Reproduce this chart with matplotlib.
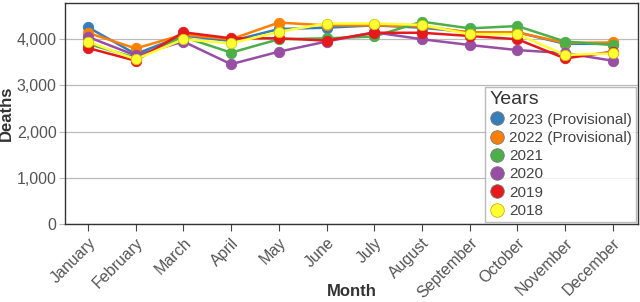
import matplotlib
matplotlib.use("Agg")
import matplotlib.pyplot as plt
import numpy as np

plt.rcParams['font.family'] = ['Liberation Sans', 'DejaVu Sans']

months = ["January", "February", "March", "April", "May", "June", "July",
          "August", "September", "October", "November", "December"]
years = ["2023 (Provisional)", "2022 (Provisional)", "2021", "2020", "2019", "2018"]
colors = ["#377eb8", "#ff7f00", "#4daf4a", "#984ea3", "#e41a1c", "#ffff33"]

d2023 = [4260, 3680, 4080, 3960, 4220, 4250, 4300, 4250, 4150, 4150, 3900, 3900]
d2022 = [4140, 3800, 4100, 4000, 4360, 4300, 4300, 4280, 4150, 4150, 3920, 3930]
d2021 = [3900, 3600, 4050, 3710, 4000, 4020, 4060, 4380, 4235, 4285, 3950, 3875]
d2020 = [4050, 3650, 3950, 3460, 3730, 3950, 4150, 4000, 3875, 3765, 3700, 3535]
d2019 = [3810, 3535, 4150, 4020, 4020, 3970, 4140, 4140, 4070, 4000, 3585, 3730]
d2018 = [3950, 3565, 4000, 3910, 4160, 4340, 4340, 4310, 4110, 4110, 3660, 3695]
series = [d2023, d2022, d2021, d2020, d2019, d2018]

fig = plt.figure(figsize=(6.4, 3.02), dpi=100)
ax = fig.add_axes([0.1016, 0.258, 0.8954, 0.733])

x = np.arange(len(months))
for vals, c, lab in zip(series, colors, years):
    edge = "#d6c400" if c == "#ffff33" else c
    ax.plot(x, vals, color=c, lw=1.8, marker="o", ms=7.5, mfc=c, mec=edge,
            mew=0.6, label=lab, zorder=3)

ax.set_ylim(0, 4790)
ax.set_xlim(-0.48, 11.53)
ax.set_yticks([0, 1000, 2000, 3000, 4000])
ax.set_yticklabels(["0", "1,000", "2,000", "3,000", "4,000"], fontsize=11.5, color="#555555")
ax.yaxis.grid(True, color="#bbbbbb", lw=0.9)
ax.set_axisbelow(True)
ax.tick_params(axis="y", length=4, color="#bbbbbb", pad=2)

ax.set_xticks(x)
ax.set_xticklabels(months, rotation=45, ha="right", rotation_mode="anchor",
                   fontsize=11.5, color="#555555")
ax.tick_params(axis="x", length=5, color="#444444", pad=3)

for s in ax.spines.values():
    s.set_color("#333333")
    s.set_linewidth(1.0)

ax.set_ylabel("Deaths", fontsize=12, fontweight="bold", color="#333333", labelpad=2)
ax.set_xlabel("Month", fontsize=12, fontweight="bold", color="#333333", labelpad=-12)

leg = ax.legend(loc="lower right", bbox_to_anchor=(1.0, 0.0), fontsize=11,
                title="Years", title_fontsize=14, frameon=True, fancybox=False,
                borderpad=0.25, labelspacing=0.28, handletextpad=0.3,
                handlelength=1.0, markerscale=1.3, borderaxespad=0.15)
leg._legend_box.align = "left"
leg.get_frame().set_edgecolor("#aaaaaa")
leg.get_frame().set_linewidth(1.0)
for h, c in zip(leg.legend_handles, colors):
    h.set_linestyle("none")
    h.set_markeredgecolor("#777777" if c != "#ffff33" else "#c8b400")
for t in leg.get_texts():
    t.set_color("#444444")
leg.get_title().set_color("#333333")

fig.savefig("out.png", dpi=100)
